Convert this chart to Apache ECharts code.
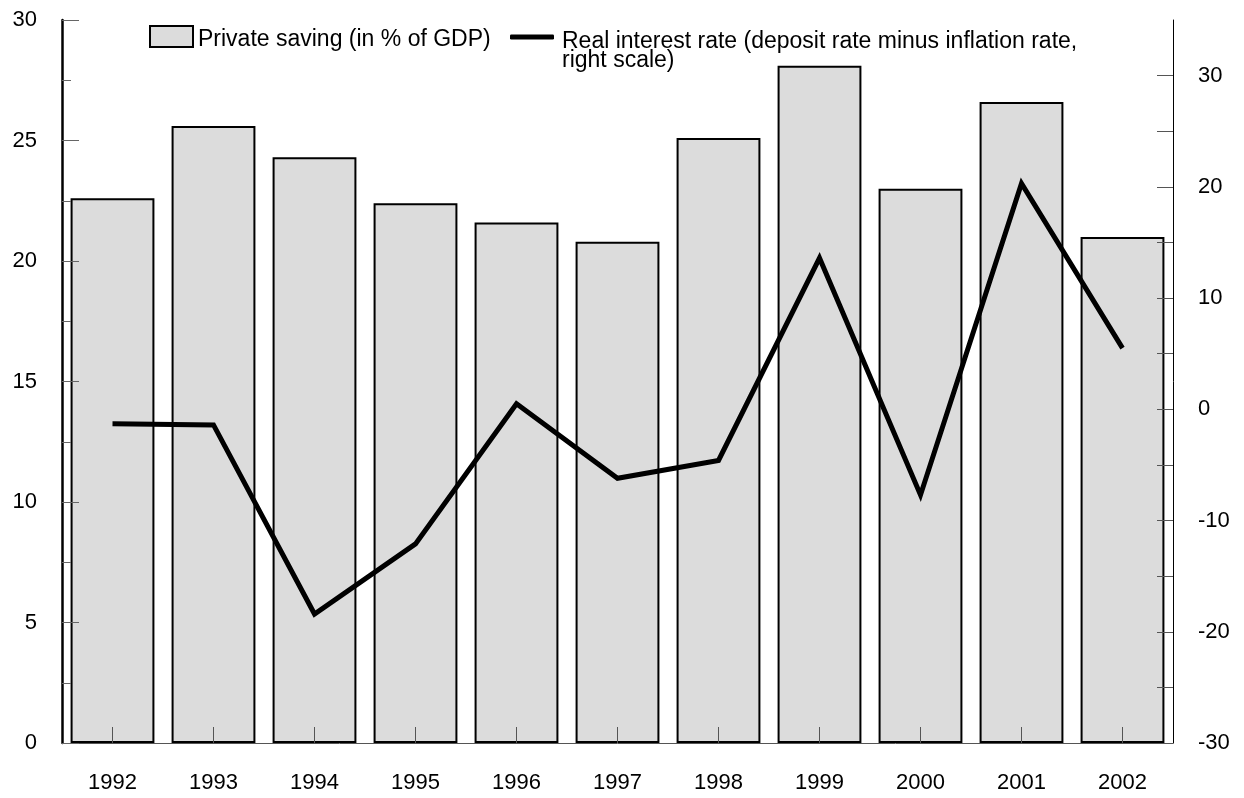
<!DOCTYPE html>
<html>
<head>
<meta charset="utf-8">
<script src="https://cdn.jsdelivr.net/npm/echarts@6/dist/echarts.min.js"></script>
<style>
html,body{margin:0;padding:0;background:#fff;}
#chart{width:1244px;height:798px;}
</style>
</head>
<body>
<div id="chart"></div>
<script>
const years = ['1992','1993','1994','1995','1996','1997','1998','1999','2000','2001','2002'];
const privateSaving = [22.6, 25.6, 24.3, 22.4, 21.6, 20.8, 25.1, 28.1, 23.0, 26.6, 21.0];
const realRate = [-1.3, -1.4, -18.4, -12.1, 0.5, -6.2, -4.6, 13.6, -7.7, 20.3, 5.5];
const savingName = 'Private saving (in % of GDP)';
const rateName = 'Real interest rate (deposit rate minus inflation rate,\nright scale)';
const leftRange = [0, 30];
const rightRange = [-30, 35];

const FONT = 'Liberation Sans, Arial, Helvetica, sans-serif';
const FS = 22;
const LFS = 23;

const chart = echarts.init(document.getElementById('chart'), null, {renderer: 'canvas'});
chart.setOption({
  backgroundColor: '#ffffff',
  animation: false,
  textStyle: {fontFamily: FONT},
  grid: {left: 62, right: 71, top: 20, bottom: 55, containLabel: false, outerBoundsMode: 'none'},
  legend: [
    {
      data: [savingName],
      left: 149, top: 23, padding: 0,
      itemWidth: 43, itemHeight: 21,
      icon: 'rect',
      itemStyle: {color: '#dcdcdc', borderColor: '#000', borderWidth: 2},
      formatter: function (name) { return '{e| }\n{t|' + name + '}'; },
      textStyle: {
        fontFamily: FONT, fontSize: LFS, color: '#000',
        rich: {
          e: {fontSize: 4, lineHeight: 6},
          t: {fontFamily: FONT, fontSize: LFS, color: '#000', lineHeight: 23}
        }
      },
      selectedMode: false
    },
    {
      data: [{name: rateName, icon: 'roundRect'}],
      left: 510, top: 16, padding: 0,
      itemWidth: 44, itemHeight: 5,
      formatter: function (name) {
        return '{e| }\n' + name.split('\n').map(function (s) { return '{t|' + s + '}'; }).join('\n');
      },
      textStyle: {
        fontFamily: FONT, fontSize: LFS, color: '#000',
        rich: {
          e: {fontSize: 4, lineHeight: 28},
          t: {fontFamily: FONT, fontSize: LFS, color: '#000', lineHeight: 19, padding: [0, 0, 0, 3]}
        }
      },
      selectedMode: false
    }
  ],
  xAxis: {
    type: 'category',
    data: years,
    boundaryGap: true,
    z: 3,
    axisLine: {show: true, lineStyle: {color: '#555', width: 1}},
    axisTick: {show: true, inside: true, alignWithLabel: true, length: 16, lineStyle: {color: '#555', width: 1}},
    axisLabel: {fontFamily: FONT, fontSize: FS, color: '#000', margin: 29, interval: 0},
    splitLine: {show: false}
  },
  yAxis: [
    {
      type: 'value',
      min: leftRange[0], max: leftRange[1], interval: 5,
      position: 'left',
      z: 3,
      axisLine: {show: true, lineStyle: {color: '#000', width: 2.5}},
      axisTick: {show: true, inside: true, length: 17, lineStyle: {color: '#666', width: 1}},
      minorTick: {show: true, splitNumber: 2, length: 9, lineStyle: {color: '#666', width: 1}},
      axisLabel: {fontFamily: FONT, fontSize: FS, color: '#000', margin: 25},
      splitLine: {show: false},
      minorSplitLine: {show: false}
    },
    {
      type: 'value',
      min: rightRange[0], max: rightRange[1], interval: 5,
      position: 'right',
      z: 3,
      axisLine: {show: true, lineStyle: {color: '#000', width: 1}},
      axisTick: {show: true, inside: true, length: 16, lineStyle: {color: '#555', width: 1}},
      axisLabel: {
        fontFamily: FONT, fontSize: FS, color: '#000', margin: 25, showMaxLabel: false,
        formatter: function (v) { return (v % 10 === 0 && v < 35) ? String(v) : ''; }
      },
      splitLine: {show: false}
    }
  ],
  series: [
    {
      name: savingName,
      type: 'bar',
      yAxisIndex: 0,
      data: privateSaving,
      barWidth: '83%',
      itemStyle: {color: '#dcdcdc', borderColor: '#000', borderWidth: 2},
      emphasis: {disabled: true}
    },
    {
      name: rateName,
      type: 'line',
      yAxisIndex: 1,
      data: realRate,
      symbol: 'none',
      showSymbol: false,
      color: '#000',
      lineStyle: {color: '#000', width: 5, join: 'miter'},
      itemStyle: {color: '#000'},
      emphasis: {disabled: true}
    }
  ]
});
</script>
</body>
</html>
